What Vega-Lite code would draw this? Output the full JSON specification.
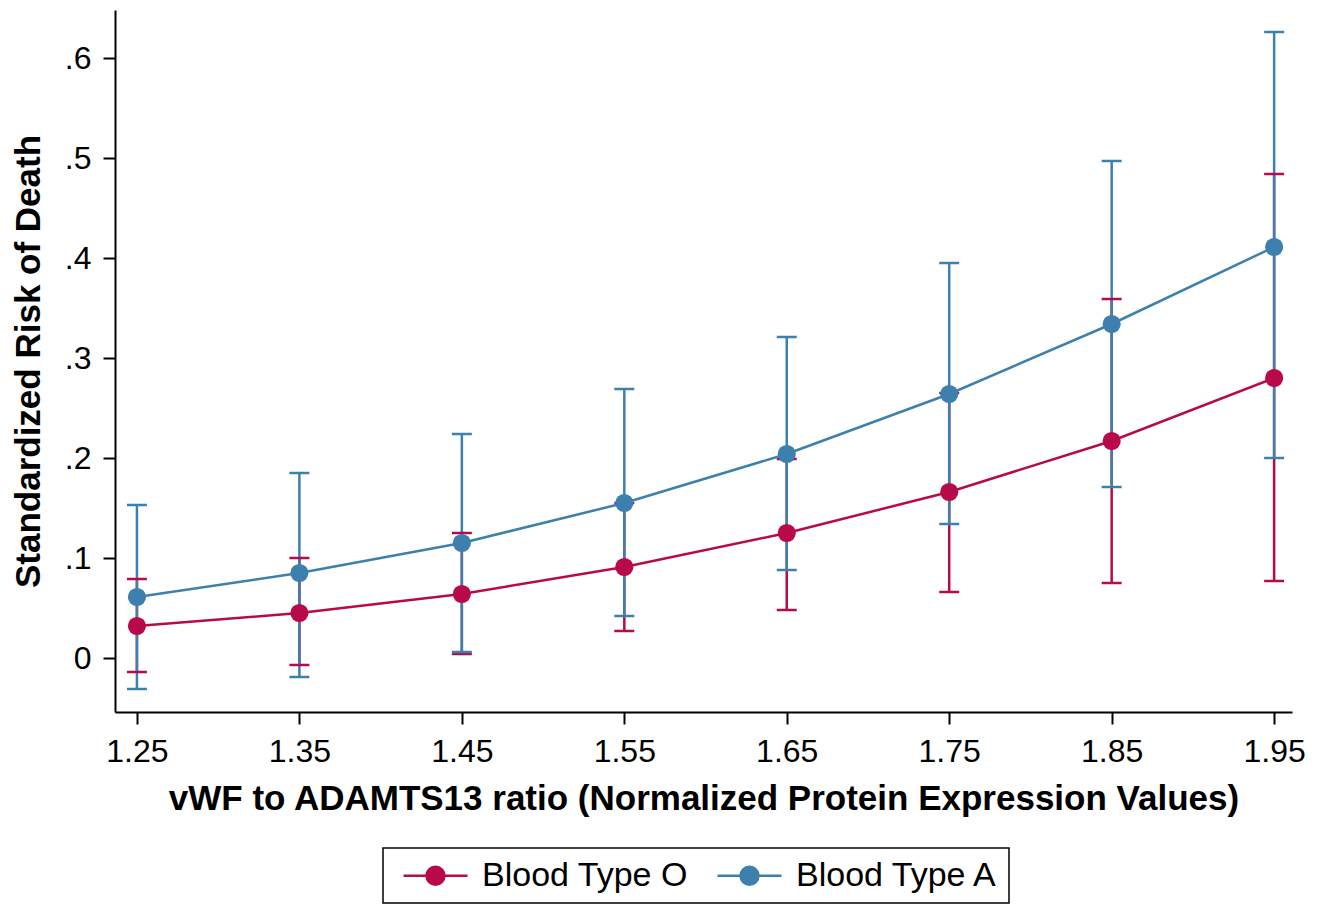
{
  "$schema": "https://vega.github.io/schema/vega-lite/v6.json",
  "autosize": "none",
  "width": 1177,
  "height": 702,
  "padding": {"left": 115, "top": 10, "right": 35, "bottom": 192},
  "background": "white",
  "config": {
    "view": {"stroke": null},
    "font": "Liberation Sans",
    "axis": {
      "grid": false,
      "domainColor": "black",
      "domainWidth": 2,
      "tickColor": "black",
      "tickWidth": 2,
      "tickSize": 12,
      "labelFont": "Liberation Sans",
      "labelFontSize": 32,
      "labelColor": "black",
      "labelPadding": 12,
      "titleFont": "Liberation Sans",
      "titleFontSize": 35,
      "titleFontWeight": "bold",
      "titleColor": "black"
    }
  },
  "data": {
    "values": [
      {"group": "Blood Type O", "x": 1.25, "est": 0.032, "lo": -0.014, "hi": 0.079},
      {"group": "Blood Type O", "x": 1.35, "est": 0.045, "lo": -0.007, "hi": 0.100},
      {"group": "Blood Type O", "x": 1.45, "est": 0.064, "lo": 0.004, "hi": 0.125},
      {"group": "Blood Type O", "x": 1.55, "est": 0.091, "lo": 0.027, "hi": 0.155},
      {"group": "Blood Type O", "x": 1.65, "est": 0.125, "lo": 0.048, "hi": 0.199},
      {"group": "Blood Type O", "x": 1.75, "est": 0.166, "lo": 0.066, "hi": 0.265},
      {"group": "Blood Type O", "x": 1.85, "est": 0.217, "lo": 0.075, "hi": 0.359},
      {"group": "Blood Type O", "x": 1.95, "est": 0.280, "lo": 0.077, "hi": 0.484},
      {"group": "Blood Type A", "x": 1.25, "est": 0.061, "lo": -0.031, "hi": 0.153},
      {"group": "Blood Type A", "x": 1.35, "est": 0.085, "lo": -0.019, "hi": 0.185},
      {"group": "Blood Type A", "x": 1.45, "est": 0.115, "lo": 0.006, "hi": 0.224},
      {"group": "Blood Type A", "x": 1.55, "est": 0.155, "lo": 0.042, "hi": 0.269},
      {"group": "Blood Type A", "x": 1.65, "est": 0.204, "lo": 0.088, "hi": 0.321},
      {"group": "Blood Type A", "x": 1.75, "est": 0.264, "lo": 0.134, "hi": 0.395},
      {"group": "Blood Type A", "x": 1.85, "est": 0.334, "lo": 0.171, "hi": 0.497},
      {"group": "Blood Type A", "x": 1.95, "est": 0.411, "lo": 0.200, "hi": 0.626}
    ]
  },
  "encoding": {
    "x": {
      "field": "x", "type": "quantitative",
      "scale": {"domain": [1.2365, 1.961], "nice": false, "zero": false},
      "axis": {"values": [1.25, 1.35, 1.45, 1.55, 1.65, 1.75, 1.85, 1.95], "format": ".2f", "title": "vWF to ADAMTS13 ratio (Normalized Protein Expression Values)", "titlePadding": 14}
    },
    "color": {
      "field": "group", "type": "nominal",
      "scale": {"domain": ["Blood Type O", "Blood Type A"], "range": ["#b80a4b", "#3d80ad"]},
      "legend": {
        "title": null,
        "orient": "none",
        "legendX": 268,
        "legendY": 838,
        "direction": "horizontal",
        "strokeColor": "black",
        "padding": 10,
        "labelFontSize": 34,
        "labelFont": "Liberation Sans",
        "labelColor": "black",
        "labelLimit": 400,
        "labelOffset": 29,
        "columnPadding": 18,
        "symbolOffset": 25,
        "symbolType": "M-2,0H2M-0.56,0A0.56,0.56,0,1,0,0.56,0A0.56,0.56,0,1,0,-0.56,0Z",
        "symbolSize": 1024,
        "symbolStrokeWidth": 2.5,
        "symbolOpacity": 1,
        "encode": {"legend": {"update": {"strokeWidth": {"value": 1.5}}}}
      }
    }
  },
  "layer": [
    {
      "mark": {"type": "rule", "strokeWidth": 2.5},
      "encoding": {
        "y": {"field": "lo", "type": "quantitative"},
        "y2": {"field": "hi"}
      }
    },
    {
      "mark": {"type": "tick", "orient": "horizontal", "size": 20, "thickness": 2.5, "opacity": 1},
      "encoding": {"y": {"field": "lo", "type": "quantitative"}}
    },
    {
      "mark": {"type": "tick", "orient": "horizontal", "size": 20, "thickness": 2.5, "opacity": 1},
      "encoding": {"y": {"field": "hi", "type": "quantitative"}}
    },
    {
      "mark": {"type": "line", "strokeWidth": 2.5},
      "encoding": {
        "y": {
          "field": "est", "type": "quantitative",
          "scale": {"domain": [-0.054, 0.648], "nice": false, "zero": false},
          "axis": {"values": [0, 0.1, 0.2, 0.3, 0.4, 0.5, 0.6], "labelExpr": "datum.value == 0 ? '0' : replace(format(datum.value, '.1f'), '0.', '.')", "title": "Standardized Risk of Death", "titlePadding": 18}
        }
      }
    },
    {
      "mark": {"type": "point", "filled": true, "size": 330, "opacity": 1},
      "encoding": {"y": {"field": "est", "type": "quantitative"}}
    }
  ]
}
